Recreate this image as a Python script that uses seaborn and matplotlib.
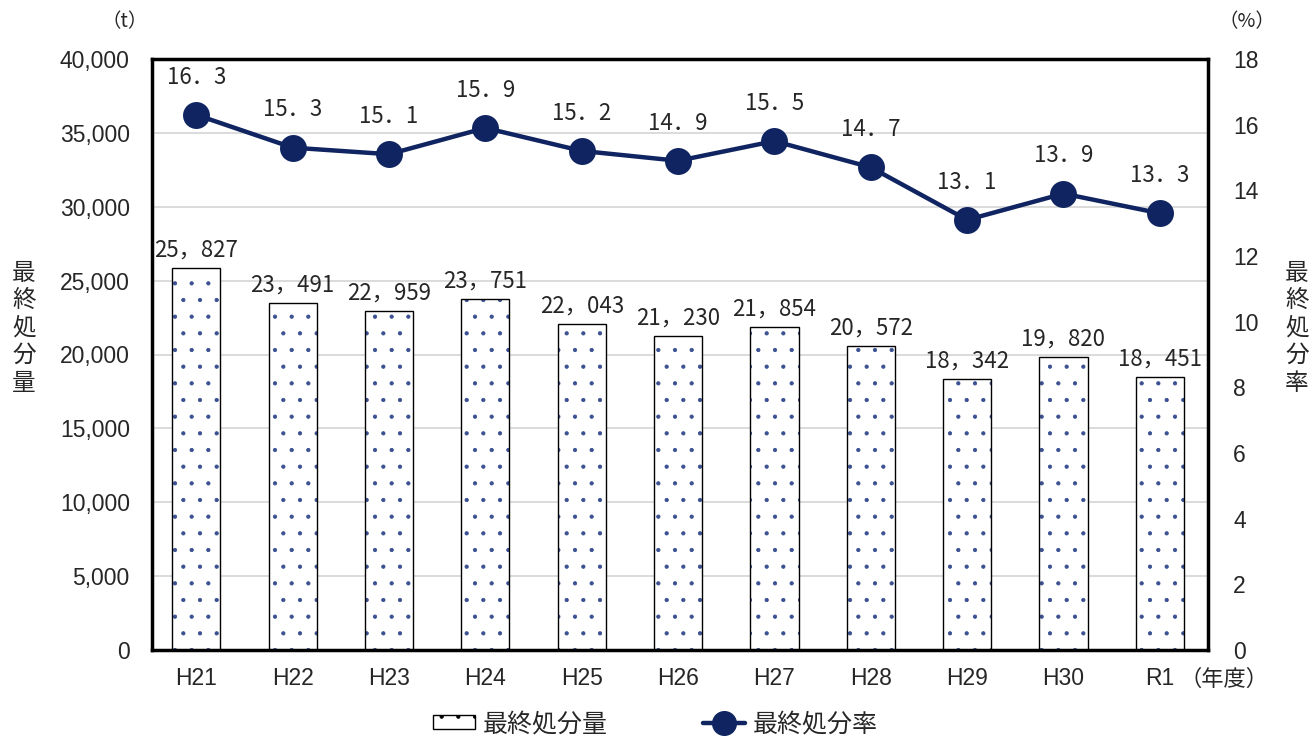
import numpy as np
import pandas as pd
import seaborn as sns
import matplotlib.pyplot as plt
from matplotlib.lines import Line2D
from matplotlib.patches import Patch

years = ["H21", "H22", "H23", "H24", "H25", "H26", "H27", "H28", "H29", "H30", "R1"]
amount = [25827, 23491, 22959, 23751, 22043, 21230, 21854, 20572, 18342, 19820, 18451]
rate = [16.3, 15.3, 15.1, 15.9, 15.2, 14.9, 15.5, 14.7, 13.1, 13.9, 13.3]

NAVY = "#0f2461"
JP = ["Noto Sans CJK JP", "DejaVu Sans"]
NUM = ["Liberation Sans", "DejaVu Sans"]

sns.set_style("white")
plt.rcParams["font.family"] = JP
plt.rcParams["hatch.linewidth"] = 0.6

df = pd.DataFrame({"year": years, "amount": amount, "rate": rate})

fig = plt.figure(figsize=(13.09, 7.40), dpi=100)
ax = fig.add_axes([152 / 1309, 1 - 650 / 740, (1208 - 152) / 1309, (650 - 59) / 740])

# dotted fill, then black outline on top
sns.barplot(data=df, x="year", y="amount", ax=ax, color="white", width=0.5,
            hatch=".", edgecolor="#3a5090", linewidth=0, zorder=2)
sns.barplot(data=df, x="year", y="amount", ax=ax, fill=False, width=0.5,
            edgecolor="black", linewidth=1.0, zorder=3)

ax.set_ylim(0, 40000)
ax.set_yticks(np.arange(0, 40001, 5000))
ax.set_yticklabels([f"{v:,}" for v in range(0, 40001, 5000)], fontsize=16.5, family=NUM)
ax.grid(axis="y", color="#d4d4d4", lw=1.2, zorder=0)
ax.set_axisbelow(True)
ax.set_xlabel("")
ax.set_ylabel("")
ax.tick_params(axis="y", length=0, pad=16)
ax.tick_params(axis="x", length=0, pad=12)
ax.set_xticks(range(len(years)))
ax.set_xticklabels(years, fontsize=16.5, family=NUM)
for s in ax.spines.values():
    s.set_linewidth(2.5)
    s.set_color("black")

for i, v in enumerate(amount):
    ax.text(i, v + 450, f"{v // 1000}，{v % 1000:03d}", ha="center", va="bottom",
            fontsize=16, zorder=5)

ax2 = ax.twinx()
sns.pointplot(data=df, x="year", y="rate", ax=ax2, color=NAVY, markers="o",
              markersize=17, linewidth=3.2, zorder=4)
ax2.set_ylim(0, 18)
ax2.set_yticks(np.arange(0, 19, 2))
ax2.set_yticklabels([str(v) for v in range(0, 19, 2)], fontsize=16.5, family=NUM)
ax2.tick_params(axis="y", length=0, pad=18)
ax2.set_ylabel("")
ax2.set_xlabel("")
for s in ax2.spines.values():
    s.set_visible(False)

for i, v in enumerate(rate):
    ax2.text(i, v + 0.8, f"{v:.1f}".replace(".", "．"), ha="center", va="bottom",
             fontsize=16, zorder=5)

ax.set_xlim(-0.46, 10.5)
ax2.set_xlim(-0.46, 10.5)

# units and axis titles
fig.text(125 / 1309, 1 - 22 / 740, "（t）", ha="center", va="center", fontsize=14)
fig.text(1247 / 1309, 1 - 22 / 740, "（%）", ha="center", va="center", fontsize=14)
fig.text(24 / 1309, 1 - 328 / 740, "\n".join("最終処分量"), ha="center", va="center",
         fontsize=17, linespacing=1.25)
fig.text(1297 / 1309, 1 - 328 / 740, "\n".join("最終処分率"), ha="center", va="center",
         fontsize=17, linespacing=1.25)
fig.text(1224 / 1309, 1 - 679 / 740, "（年度）", ha="center", va="center", fontsize=16)

handles = [
    Patch(facecolor="white", edgecolor="black", hatch=".", lw=1.0),
    Line2D([], [], color=NAVY, lw=3.2, marker="o", markersize=17),
]
leg = fig.legend(handles, ["最終処分量", "最終処分率"], loc="center",
                 bbox_to_anchor=(655 / 1309, 1 - 724 / 740), ncol=2, frameon=False,
                 fontsize=18, columnspacing=3.8, handlelength=1.7, handletextpad=0.3,
                 handleheight=0.5)

fig.savefig("out.png", dpi=100)
